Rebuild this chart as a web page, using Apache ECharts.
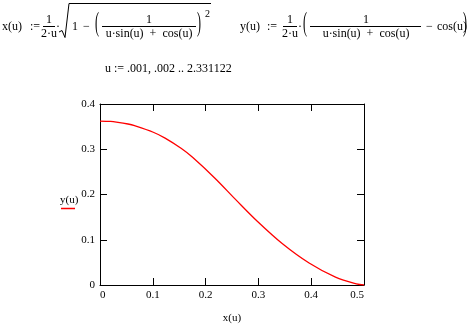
<!DOCTYPE html>
<html>
<head>
<meta charset="utf-8">
<script src="https://cdn.jsdelivr.net/npm/echarts@6/dist/echarts.min.js"></script>
<style>
  html, body { margin: 0; padding: 0; background: #fff; }
  #chart { width: 470px; height: 329px; }
</style>
</head>
<body>
<div id="chart"></div>
<script>
// points of the curve (x(u), y(u))
const xValues = [0, 0.02, 0.031, 0.053, 0.0655, 0.1009, 0.1233, 0.1535, 0.1753, 0.2177, 0.2566, 0.2984, 0.345, 0.396, 0.446, 0.4854, 0.5];
const yValues = [0.3623, 0.3614, 0.3600, 0.3558, 0.3521, 0.3376, 0.3247, 0.3022, 0.2823, 0.2360, 0.1892, 0.1403, 0.0917, 0.0486, 0.0174, 0.0024, 0];

// tick labels
const xTickLabels = ['0', '0.1', '0.2', '0.3', '0.4', '0.5'];
const yTickLabels = ['0', '0.1', '0.2', '0.3', '0.4'];

const FONT = '"Liberation Serif", "Times New Roman", serif';
const RED = '#ff0000';
const chart = echarts.init(document.getElementById('chart'));

// small helpers for the formula pieces
function txt(text, x, y, align, size) {
    return {
        type: 'text', x: x, y: y, silent: true,
        style: {
            text: text, fill: '#000', font: (size || 12) + 'px ' + FONT,
            textAlign: align || 'left', textVerticalAlign: 'middle'
        }
    };
}
function bar(x1, x2, y, color, w) {
    return {
        type: 'line', silent: true,
        shape: { x1: x1, y1: y, x2: x2, y2: y },
        style: { stroke: color || '#000', lineWidth: w || 1 }
    };
}
function bigParen(ch, x) {
    return {
        type: 'text', x: x, y: 24, scaleY: 2.3, silent: true,
        style: {
            text: ch, fill: '#000', font: '12px ' + FONT,
            textAlign: 'left', textVerticalAlign: 'middle'
        }
    };
}

const graphics = [
    // x(u) := 1/(2u) * sqrt(1 - (1/(u sin u + cos u))^2)
    txt('x(u)', 2, 27),
    txt(':=', 30, 27),
    txt('1', 49, 20, 'center'),
    bar(43, 55, 26.5),
    txt('2·u', 49, 34, 'center'),
    txt('·', 56, 27),
    {
        type: 'polyline', silent: true,
        shape: { points: [[59, 32], [62, 30.5], [65, 37.5], [69, 3.5], [211, 3.5]] },
        style: { stroke: '#000', lineWidth: 1, fill: null }
    },
    txt('1', 72, 27),
    txt('−', 83, 27),
    bigParen('(', 95),
    txt('1', 149, 20, 'center'),
    bar(102, 196, 26.5),
    txt('u·sin(u)  +  cos(u)', 149, 34, 'center'),
    bigParen(')', 197),
    txt('2', 205, 14, 'left', 10),

    // y(u) := 1/(2u) * (1/(u sin u + cos u) - cos u)
    txt('y(u)', 240, 27),
    txt(':=', 267, 27),
    txt('1', 290, 20, 'center'),
    bar(283, 297, 26.5),
    txt('2·u', 290, 34, 'center'),
    txt('·', 298, 27),
    bigParen('(', 303),
    txt('1', 366, 20, 'center'),
    bar(310, 421, 26.5),
    txt('u·sin(u)  +  cos(u)', 366, 34, 'center'),
    txt('−', 426, 27),
    txt('cos(u)', 437, 27),
    bigParen(')', 463),

    // range variable
    txt('u := .001, .002 .. 2.331122', 105, 69),

    // trace label at the y axis, with its red line sample
    txt('y(u)', 60, 200, 'left', 11),
    bar(61, 75, 208.5, RED, 1.5)
];

const axisCommon = {
    type: 'value',
    axisLine: { show: true, onZero: false, lineStyle: { color: '#000', width: 1 } },
    axisTick: { show: true, inside: true, length: 7, lineStyle: { color: '#000', width: 1 } },
    splitLine: { show: false }
};

const option = {
    animation: false,
    backgroundColor: '#fff',
    textStyle: { fontFamily: FONT },
    grid: { left: 100, top: 104, right: 106, bottom: 33 },
    xAxis: [
        Object.assign({}, axisCommon, {
            position: 'bottom', min: 0, max: 0.5, interval: 0.1,
            name: 'x(u)', nameLocation: 'middle', nameGap: 28,
            nameTextStyle: { color: '#000', fontSize: 11, fontFamily: FONT },
            axisLabel: {
                color: '#000', fontSize: 11, fontFamily: FONT, margin: 5,
                alignMinLabel: 'left', alignMaxLabel: 'right',
                formatter: v => xTickLabels[Math.round(v * 10)]
            }
        }),
        Object.assign({}, axisCommon, {
            position: 'top', min: 0, max: 0.5, interval: 0.1,
            axisLabel: { show: false }
        })
    ],
    yAxis: [
        Object.assign({}, axisCommon, {
            position: 'left', min: 0, max: 0.4, interval: 0.1,
            axisLabel: {
                color: '#000', fontSize: 11, fontFamily: FONT, margin: 5,
                formatter: v => yTickLabels[Math.round(v * 10)]
            }
        }),
        Object.assign({}, axisCommon, {
            position: 'right', min: 0, max: 0.4, interval: 0.1,
            axisLabel: { show: false }
        })
    ],
    series: [{
        type: 'line',
        xAxisIndex: 0,
        yAxisIndex: 0,
        data: xValues.map((x, i) => [x, yValues[i]]),
        smooth: 0.35,
        showSymbol: false,
        lineStyle: { color: RED, width: 1.3 }
    }, {
        // empty series so the mirrored top/right axes get drawn
        type: 'line',
        xAxisIndex: 1,
        yAxisIndex: 1,
        data: [],
        showSymbol: false
    }],
    graphic: graphics
};

chart.setOption(option);
</script>
</body>
</html>
